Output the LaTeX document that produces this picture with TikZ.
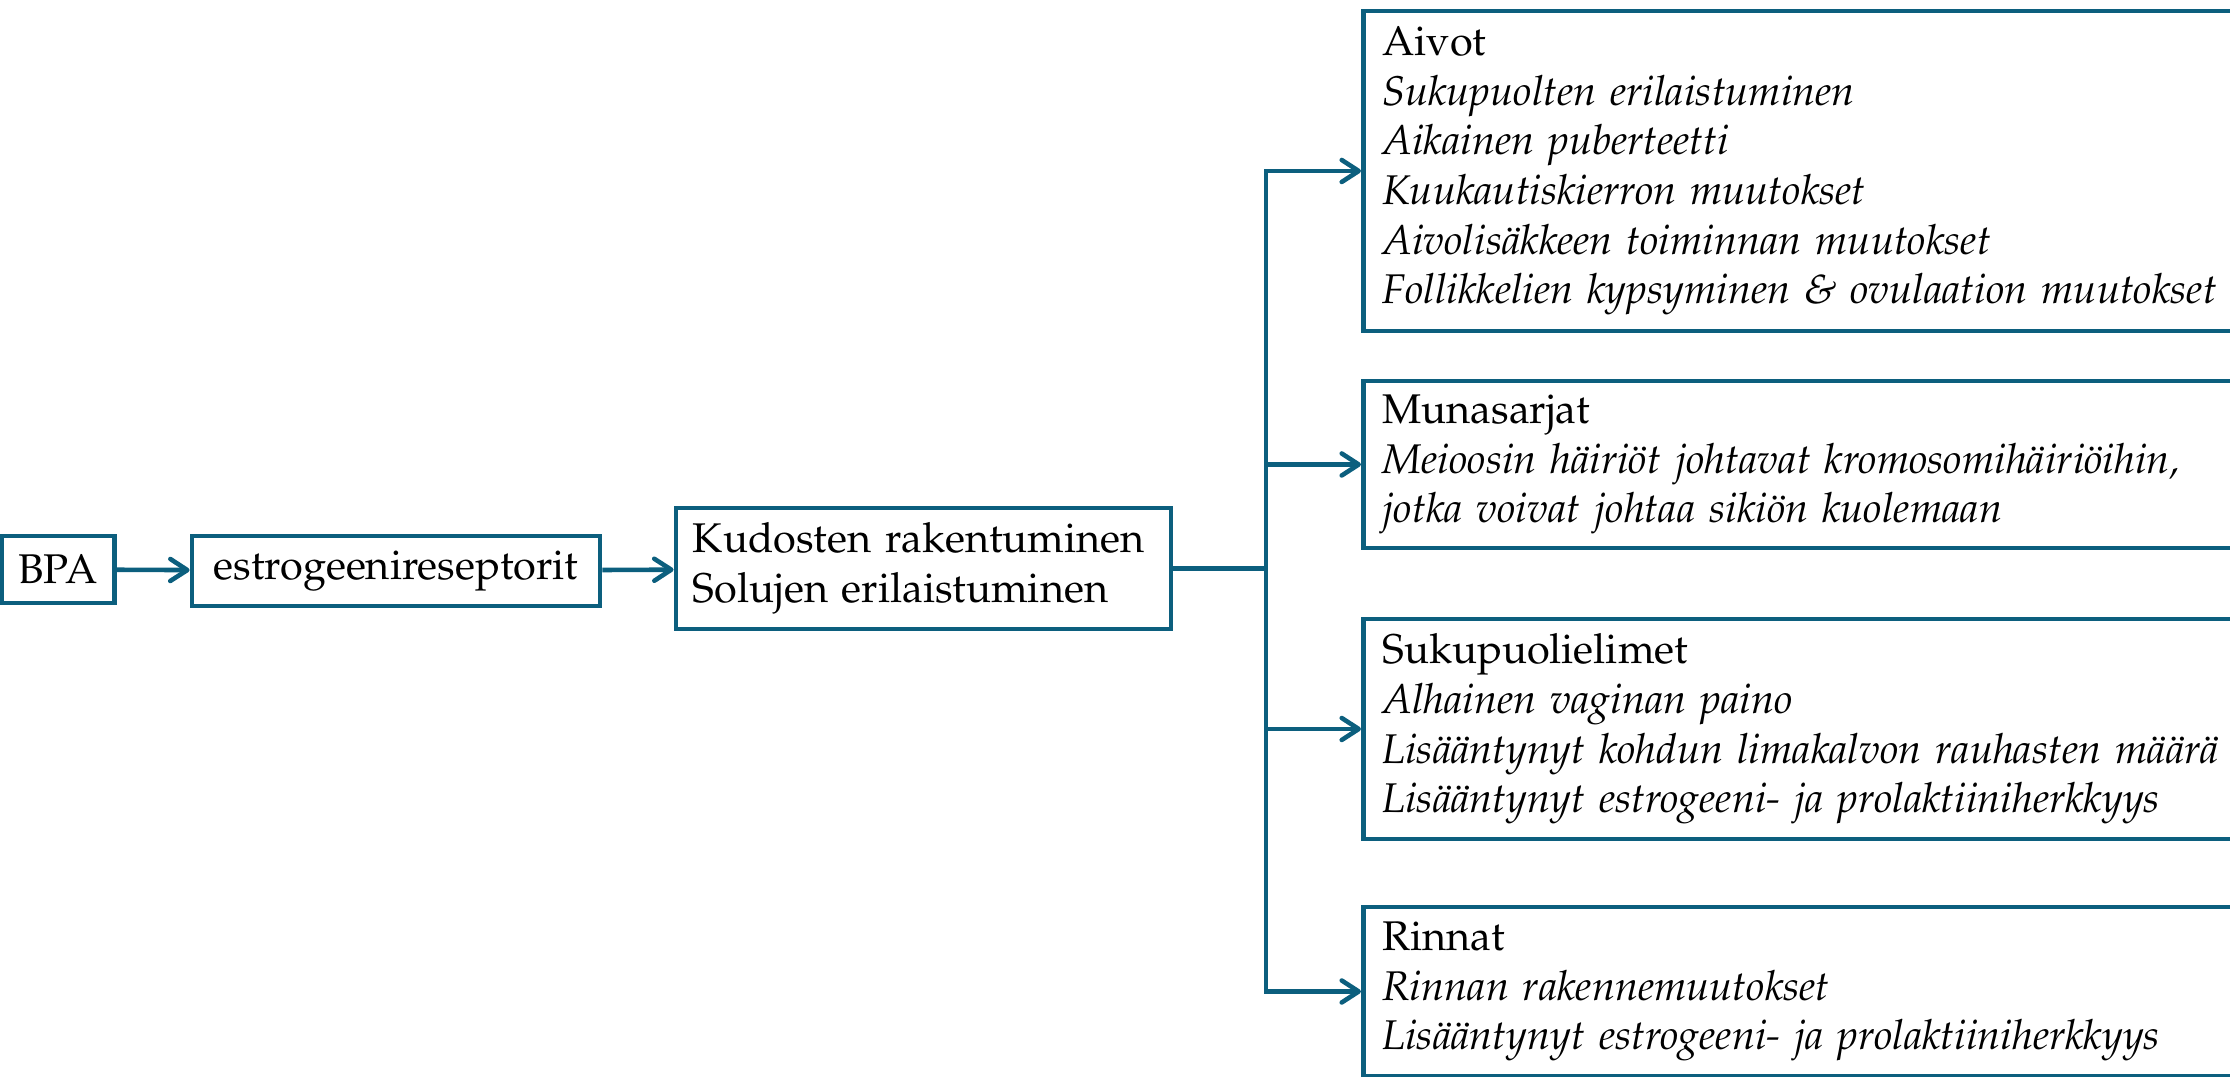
\documentclass[tikz,border=0pt]{standalone}
\usepackage[T1]{fontenc}
\usepackage{mathpazo}
\usepackage{tikz}
\usetikzlibrary{arrows.meta}
\definecolor{sininen}{RGB}{12,95,126}

\begin{document}
\begin{tikzpicture}[x=0.01cm,y=-0.01cm,font=\fontsize{11.8}{14.1}\selectfont]
\tikzstyle{nuoli}=[-{Straight Barb[length=1.7mm,width=2.2mm,round]},line width=1.3pt,draw=sininen]
\tikzset{laatikko/.style={draw=sininen,line width=1.3pt,inner ysep=0pt,inner xsep=0.19cm,
minimum height=#1,text width=8.51cm,align=left,anchor=west},
laatikko/.default={1.67cm}}
\clip (0,0) rectangle (2230,1077);
\node [draw=sininen,line width=1.3pt,minimum width=1.13cm,minimum height=0.67cm,inner sep=0pt] (bpa) at (58,569.5) {BPA};
\node [draw=sininen,line width=1.3pt,minimum width=4.08cm,minimum height=0.7cm,inner sep=0pt] (estro) at (396,571) {estrogeenireseptorit};
\node [draw=sininen,line width=1.3pt,text width=4.61cm,inner xsep=0.17cm,inner ysep=0pt,minimum height=1.21cm,align=left] (kud) at (923.5,568.5) {Kudosten rakentuminen\\Solujen erilaistuminen};
\node [laatikko=3.2cm] (aivot) at (1361,171) {Aivot\\\textit{Sukupuolten erilaistuminen}\\\textit{Aikainen puberteetti}\\\textit{Kuukautiskierron muutokset}\\\textit{Aivolisäkkeen toiminnan muutokset}\\\textit{Follikkelien kypsyminen \& ovulaation muutokset}};
\node [laatikko] (muna) at (1361,464.5) {Munasarjat\\\textit{Meioosin häiriöt johtavat kromosomihäiriöihin,}\\\textit{jotka voivat johtaa sikiön kuolemaan}};
\node [laatikko=2.2cm] (suku) at (1361,729) {Sukupuolielimet\\\textit{Alhainen vaginan paino}\\\textit{Lisääntynyt kohdun limakalvon rauhasten määrä}\\\textit{Lisääntynyt estrogeeni- ja prolaktiiniherkkyys}};
\node [laatikko=1.69cm] (rinnat) at (1361,991.5) {Rinnat\\\textit{Rinnan rakennemuutokset}\\\textit{Lisääntynyt estrogeeni- ja prolaktiiniherkkyys}};
\coordinate (haara) at (1266,568.5);
\draw [nuoli] (bpa) -- (estro);
\draw [nuoli] (estro) -- (kud);
\draw [line width=1.3pt,sininen] (kud.east) -- (haara);
\foreach \k in {aivot,muna,suku,rinnat}
\draw [nuoli] (haara) |- (\k.west);
\end{tikzpicture}
\end{document}
